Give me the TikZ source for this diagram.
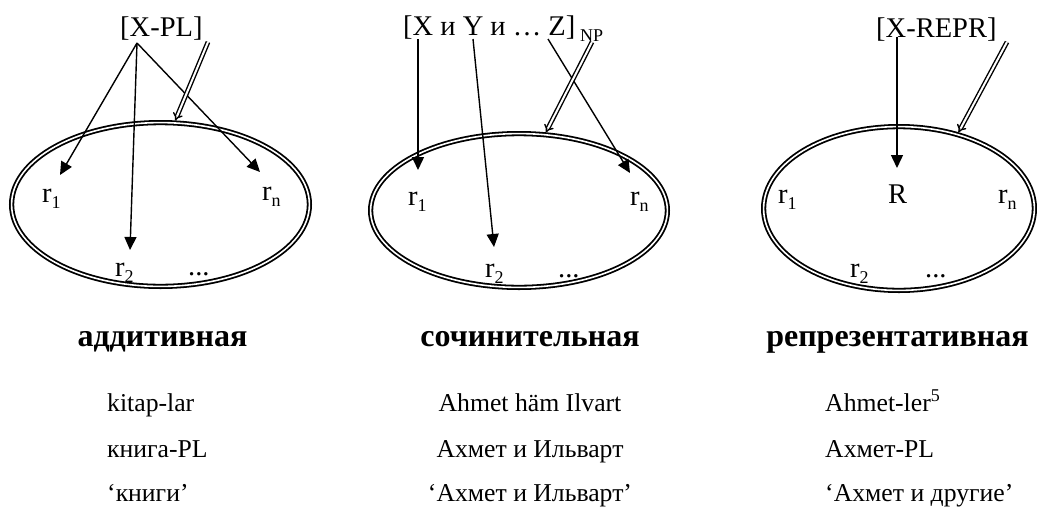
\documentclass[tikz,border=0pt]{standalone}
\usepackage{fontspec}
\setmainfont{Liberation Serif}
\usetikzlibrary{positioning, calc, arrows.meta, shapes.geometric}

\newcommand{\rsub}[1]{\raisebox{-0.22em}{\fontsize{18}{18}\selectfont #1}}

\tikzset{
  lbl/.style={inner sep=0pt, anchor=base west, font=\fontsize{28.5}{30}\selectfont},
  rlab/.style={inner sep=0pt, anchor=base west, font=\fontsize{28.5}{30}\selectfont},
  ttl/.style={inner sep=0pt, anchor=base, font=\fontsize{32}{34}\selectfont\bfseries},
  row/.style={inner sep=0pt, font=\fontsize{25.7}{28}\selectfont},
  ell/.style={ellipse, draw, double, line width=1.8pt, double distance=1.6pt, inner sep=0pt, outer sep=2.6pt},
  arr/.style={line width=1.4pt, -{Triangle[length=13pt,width=12pt]}},
  dbl/.style={double, line width=1.4pt, double distance=2pt, -{Implies}}
}

\begin{document}
\begin{tikzpicture}[x=1pt, y=-1pt]
\useasboundingbox (0,0) rectangle (1037,507);

% ellipses
\node[ell, minimum width=297.8pt, minimum height=163.8pt] (e1) at (160.5,204.5) {};
\node[ell, minimum width=296.8pt, minimum height=153.8pt] (e2) at (519,210.5) {};
\node[ell, minimum width=270.8pt, minimum height=163.8pt] (e3) at (899,208.5) {};

% top labels
\node[lbl] (xpl) at (120,36) {[X-PL]};
\node[lbl] (xyz) at (403,35) {[X и Y и … Z]\,\rsub{NP}};
\node[lbl] (xrepr) at (876,37) {[X-REPR]};

% elements, panel 1
\node[rlab] (ra1) at (42,202) {r\rsub{1}};
\node[rlab] (ra2) at (115,276) {r\rsub{2}};
\node[rlab] (ran) at (262,200) {r\rsub{n}};
\node[rlab] (ead) at (188,275) {...};

% elements, panel 2
\node[rlab] (rb1) at (408,205) {r\rsub{1}};
\node[rlab] (rb2) at (485,277) {r\rsub{2}};
\node[rlab] (rbn) at (630,205) {r\rsub{n}};
\node[rlab] (ebd) at (558,277) {...};

% elements, panel 3
\node[rlab] (rc1) at (778,203) {r\rsub{1}};
\node[rlab] (rcR) at (888,203) {R};
\node[rlab] (rc2) at (850,277) {r\rsub{2}};
\node[rlab] (rcn) at (998,203) {r\rsub{n}};
\node[rlab] (ecd) at (925,277) {...};

% arrows
\draw[arr] ([shift={(17,7)}]xpl.base west) -- ([shift={(18,-27)}]ra1.base west);
\draw[arr] ([shift={(17,7)}]xpl.base west) -- ([shift={(15,-26)}]ra2.base west);
\draw[arr] ([shift={(17,7)}]xpl.base west) -- ([shift={(-2,-28)}]ran.base west);
\draw[dbl] ([shift={(88,6)}]xpl.base west) -- (e1.80);

\draw[arr] ([shift={(15,4)}]xyz.base west) -- ([shift={(10,-35)}]rb1.base west);
\draw[arr] ([shift={(70,4)}]xyz.base west) -- ([shift={(9,-30)}]rb2.base west);
\draw[arr] ([shift={(145,4)}]xyz.base west) -- ([shift={(0,-32)}]rbn.base west);
\draw[dbl] ([shift={(189,7)}]xyz.base west) -- (e2.71);

\draw[arr] ([shift={(21,0)}]xrepr.base west) -- ([shift={(9,-35)}]rcR.base west);
\draw[dbl] ([shift={(131,5)}]xrepr.base west) -- (e3.52);

% titles
\node[ttl] (tadd) at (162.5,346) {аддитивная};
\node[ttl] (tsoc) at (530,346) {сочинительная};
\node[ttl] (trep) at (897.5,346) {репрезентативная};

% examples
\node[row, anchor=base west] (a1) at (107,411) {kitap-lar};
\node[row, anchor=base west] (a2) at (107,457) {книга-PL};
\node[row, anchor=base west] (a3) at (107,501) {‘книги’};
\node[row, anchor=base] (b1) at (530,411) {Ahmet häm Ilvart};
\node[row, anchor=base] (b2) at (530,457) {Ахмет и Ильварт};
\node[row, anchor=base] (b3) at (530,501) {‘Ахмет и Ильварт’};
\node[row, anchor=base west] (c1) at (825,411) {Ahmet-ler\textsuperscript{5}};
\node[row, anchor=base west] (c2) at (825,457) {Ахмет-PL};
\node[row, anchor=base west] (c3) at (825,501) {‘Ахмет и другие’};
\end{tikzpicture}
\end{document}
